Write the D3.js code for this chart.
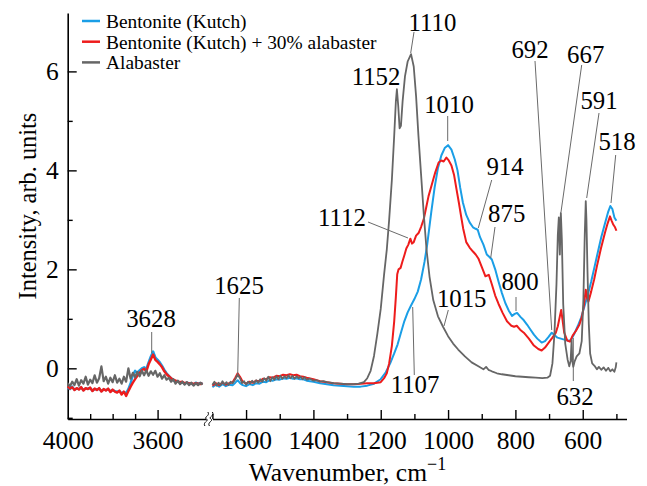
<!DOCTYPE html>
<html><head><meta charset="utf-8">
<script src="https://cdn.jsdelivr.net/npm/d3@7"></script>
<style>body{margin:0;background:#fff}svg{display:block}</style>
</head><body><svg id="c" width="647" height="486"></svg>
<script>
// ---------- DATA ----------
const seriesNames = ["Bentonite (Kutch)", "Bentonite (Kutch) + 30% alabaster", "Alabaster"];

// left segment (4000–3400 cm-1)
const wnLeft = [4000,3990,3980,3970,3960,3950,3940,3930,3920,3910,
                3900,3890,3880,3870,3860,3850,3840,3830,3820,3810,
                3800,3790,3780,3770,3760,3750,3740,3730,3720,3710,
                3700,3690,3680,3670,3660,3650,3640,3630,3620,3610,
                3600,3590,3580,3570,3560,3550,3540,3530,3520,3510,
                3500,3490,3480,3470,3460,3450,3440,3430,3420,3410,
                3400];
const bentoniteLeft = [-0.39,-0.42,-0.37,-0.43,-0.41,-0.42,-0.39,-0.44,-0.41,-0.41,
                       -0.4,-0.45,-0.42,-0.43,-0.41,-0.46,-0.43,-0.44,-0.42,-0.46,
                       -0.44,-0.46,-0.47,-0.46,-0.5,-0.48,-0.5,-0.42,-0.3,-0.14,
                       -0.05,-0.1,-0.04,0.0,0.02,-0.01,0.12,0.24,0.34,0.22,
                       0.17,0.12,0.05,-0.03,-0.1,-0.15,-0.2,-0.24,-0.27,-0.26,
                       -0.3,-0.28,-0.31,-0.29,-0.3,-0.31,-0.33,-0.29,-0.31,-0.3,
                       -0.31];
const mixLeft = [-0.37,-0.41,-0.38,-0.44,-0.4,-0.43,-0.38,-0.45,-0.4,-0.42,
                 -0.39,-0.46,-0.41,-0.44,-0.4,-0.47,-0.42,-0.45,-0.41,-0.48,
                 -0.43,-0.47,-0.49,-0.45,-0.53,-0.47,-0.56,-0.46,-0.37,-0.29,
                 -0.22,-0.15,-0.1,-0.04,-0.01,-0.06,0.08,0.18,0.28,0.17,
                 0.13,0.08,0.02,-0.06,-0.12,-0.16,-0.2,-0.23,-0.25,-0.27,
                 -0.28,-0.27,-0.3,-0.29,-0.31,-0.3,-0.32,-0.3,-0.31,-0.32,
                 -0.3];
const alabasterLeft = [-0.3,-0.36,-0.27,-0.34,-0.22,-0.35,-0.24,-0.31,-0.17,-0.33,
                       -0.23,-0.3,-0.14,-0.29,-0.2,0.04,-0.26,-0.17,-0.31,-0.19,
                       -0.28,-0.14,-0.29,-0.21,-0.31,-0.17,-0.27,0.0,-0.21,-0.09,
                       -0.18,-0.07,-0.16,-0.05,-0.14,-0.04,-0.15,-0.06,-0.13,-0.05,
                       -0.17,-0.1,-0.21,-0.14,-0.23,-0.19,-0.27,-0.22,-0.31,-0.25,
                       -0.32,-0.27,-0.33,-0.28,-0.34,-0.29,-0.35,-0.3,-0.34,-0.29,
                       -0.33];

// right segment (1700–500 cm-1): [wavenumber, intensity]
const bentoniteRight = [[1700,-0.38],[1690,-0.33],[1680,-0.37],[1670,-0.32],[1660,-0.36],[1650,-0.33],[1640,-0.34],[1632,-0.29],
  [1625,-0.24],[1618,-0.3],[1610,-0.34],[1600,-0.36],[1590,-0.32],[1580,-0.34],[1570,-0.3],[1560,-0.31],[1550,-0.27],[1540,-0.28],
  [1530,-0.24],[1520,-0.25],[1510,-0.22],[1500,-0.23],[1490,-0.2],[1480,-0.21],[1470,-0.19],[1460,-0.21],[1450,-0.2],[1440,-0.22],
  [1430,-0.22],[1420,-0.25],[1400,-0.27],[1380,-0.3],[1360,-0.32],[1340,-0.34],[1320,-0.35],[1300,-0.36],[1280,-0.37],[1260,-0.37],
  [1240,-0.35],[1220,-0.31],[1200,-0.22],[1185,-0.08],[1172,0.1],[1160,0.3],[1150,0.48],[1140,0.72],[1130,0.95],[1120,1.13],
  [1110,1.27],[1100,1.4],[1090,1.55],[1080,1.8],[1070,2.15],[1062,2.5],[1050,3.15],[1040,3.65],[1030,4.05],[1020,4.3],[1010,4.45],
  [1000,4.51],[990,4.42],[980,4.22],[972,4.0],[964,3.65],[956,3.35],[946,3.1],[936,2.95],[926,2.85],[918,2.82],[912,2.8],
  [905,2.65],[895,2.5],[885,2.3],[877,2.25],[870,2.2],[860,2.0],[850,1.75],[840,1.52],[830,1.32],[820,1.17],[810,1.06],
  [802,1.1],[795,1.12],[785,1.04],[775,0.97],[765,0.88],[755,0.78],[745,0.68],[735,0.6],[722,0.52],[712,0.55],[702,0.63],
  [692,0.72],[685,0.68],[675,0.62],[665,0.6],[655,0.58],[645,0.56],[635,0.57],[625,0.7],[615,0.85],[605,1.02],[595,1.25],
  [585,1.48],[575,1.75],[565,2.05],[555,2.35],[545,2.65],[535,2.9],[525,3.15],[518,3.28],[512,3.22],[506,3.05],[500,2.98]];

const mixRight = [[1700,-0.35],[1690,-0.3],[1680,-0.34],[1670,-0.29],[1660,-0.33],[1650,-0.3],[1640,-0.28],[1632,-0.19],
  [1625,-0.1],[1618,-0.17],[1610,-0.27],[1600,-0.31],[1590,-0.27],[1580,-0.29],[1570,-0.25],[1560,-0.26],[1550,-0.21],[1540,-0.22],
  [1530,-0.18],[1520,-0.19],[1510,-0.15],[1500,-0.16],[1490,-0.13],[1480,-0.14],[1470,-0.12],[1460,-0.14],[1450,-0.13],[1440,-0.16],
  [1430,-0.17],[1420,-0.19],[1400,-0.22],[1380,-0.26],[1360,-0.28],[1340,-0.3],[1320,-0.31],[1300,-0.32],[1280,-0.32],[1260,-0.31],
  [1240,-0.3],[1220,-0.3],[1200,-0.28],[1190,-0.2],[1182,-0.1],[1175,0.1],[1167,0.45],[1160,0.95],[1155,1.45],[1151,1.9],
  [1147,2.0],[1141,2.03],[1136,2.15],[1130,2.28],[1124,2.42],[1118,2.5],[1112,2.62],[1107,2.52],[1102,2.55],[1095,2.68],
  [1087,2.74],[1080,2.86],[1072,3.02],[1065,3.25],[1058,3.48],[1048,3.72],[1038,3.96],[1028,4.16],[1020,4.2],[1013,4.18],
  [1005,4.26],[998,4.2],[990,4.1],[982,3.9],[975,3.62],[968,3.35],[962,3.1],[955,2.82],[946,2.55],[936,2.44],[926,2.36],
  [918,2.3],[910,2.22],[900,2.05],[889,1.86],[879,1.89],[870,1.7],[860,1.47],[850,1.3],[838,1.12],[825,0.95],[812,0.86],
  [804,0.84],[796,0.86],[786,0.78],[775,0.72],[760,0.6],[745,0.46],[732,0.39],[722,0.36],[712,0.42],[700,0.53],[690,0.62],
  [680,0.72],[674,0.85],[668,1.05],[664,1.18],[660,0.98],[655,0.72],[646,0.56],[638,0.54],[630,0.66],[620,0.76],[610,0.88],
  [602,1.05],[596,1.3],[591,1.59],[587,1.42],[583,1.35],[575,1.55],[566,1.8],[558,2.06],[546,2.42],[534,2.74],[526,2.93],
  [519,3.07],[514,2.98],[509,2.9],[504,2.85],[500,2.78]];

const alabasterRight = [[1700,-0.33],[1694,-0.27],[1688,-0.35],[1682,-0.29],[1676,-0.34],[1670,-0.26],[1664,-0.33],[1658,-0.28],
  [1652,-0.34],[1646,-0.27],[1640,-0.3],[1632,-0.22],[1625,-0.13],[1618,-0.2],[1612,-0.3],[1606,-0.26],[1600,-0.33],[1594,-0.27],
  [1588,-0.31],[1582,-0.25],[1576,-0.3],[1570,-0.24],[1564,-0.29],[1558,-0.22],[1552,-0.27],[1546,-0.2],[1540,-0.25],[1534,-0.17],
  [1528,-0.26],[1522,-0.18],[1516,-0.23],[1510,-0.16],[1504,-0.22],[1498,-0.15],[1492,-0.21],[1486,-0.16],[1480,-0.2],[1474,-0.14],
  [1468,-0.2],[1462,-0.15],[1456,-0.21],[1450,-0.16],[1444,-0.2],[1438,-0.17],[1432,-0.22],[1426,-0.18],[1420,-0.23],[1410,-0.21],
  [1400,-0.25],[1390,-0.24],[1380,-0.27],[1370,-0.26],[1360,-0.28],[1340,-0.3],[1320,-0.31],[1300,-0.32],[1280,-0.32],[1265,-0.31],
  [1250,-0.28],[1240,-0.2],[1230,-0.05],[1220,0.25],[1210,0.7],[1200,1.2],[1190,1.9],[1182,2.4],[1175,3.0],[1167,3.8],
  [1160,4.7],[1155,5.4],[1152,5.64],[1148,5.3],[1144,4.85],[1140,4.9],[1135,5.4],[1128,5.9],[1120,6.2],[1110,6.35],
  [1102,6.1],[1095,5.5],[1088,4.7],[1080,3.9],[1072,3.1],[1064,2.4],[1055,1.85],[1044,1.38],[1030,1.05],[1015,0.84],
  [1000,0.65],[985,0.5],[970,0.38],[950,0.24],[930,0.12],[910,0.04],[895,-0.02],[887,0.03],[880,-0.03],[870,-0.06],
  [855,-0.1],[840,-0.12],[820,-0.14],[800,-0.16],[780,-0.17],[760,-0.18],[740,-0.19],[720,-0.2],[705,-0.19],[697,-0.15],
  [690,0.1],[684,0.7],[678,1.7],[674,2.7],[671,3.05],[668,2.3],[665,3.14],[662,2.6],[658,1.3],[652,0.5],[645,0.18],
  [640,0.04],[636,0.15],[633,0.57],[631,0.15],[628,0.03],[624,0.14],[618,0.24],[610,0.3],[603,0.55],[598,1.4],[594,2.7],
  [591,3.38],[589,3.0],[586,2.0],[582,0.9],[578,0.3],[572,0.1],[565,0.05],[558,-0.02],[552,0.03],[545,-0.03],[538,0.02],
  [531,-0.05],[524,0.01],[518,-0.06],[512,-0.02],[506,-0.07],[502,0.02],[500,0.12]];

const peakLabels = ["3628","1625","1152","1110","1112","1107","1010","1015","914","875","800","692","667","632","591","518"];
const yTicks = [0,2,4,6];
const yMinor = [-1,1,3,5];
const xTicksLeft = [4000,3600];
const xMinorLeft = [3900,3800,3700,3500];
const xTicksRight = [1600,1400,1200,1000,800,600];
const xMinorRight = [1700,1500,1300,1100,900,700,500];

// ---------- STYLE ----------
const font = `"Liberation Serif", "Times New Roman", serif`;
const fs = {tick:25.5, ann:24.8, ytitle:24.4, xtitle:25.5, sup:18, leg:19.4, pad:12};
const colors = ["#1a9ee6","#ee1c1c","#666666"];
const svg = d3.select("#c").style("font-family", font);

const xL = d3.scaleLinear().domain([4000,3385]).range([67.7,205.9]);
const xR = d3.scaleLinear().domain([1700,470]).range([212.4,626.5]);
const y = d3.scaleLinear().domain([-1.024,7.18]).range([419,13]);

function styleAxis(g){
  g.attr("font-family", null).attr("font-size", null);
  g.selectAll("path.domain").attr("stroke","#000").attr("stroke-width",1.6);
  g.selectAll(".tick line").attr("stroke","#000").attr("stroke-width",1.4);
  g.selectAll(".tick text").style("font-family", font).style("font-size", fs.tick+"px").attr("fill","#000");
}
// y axis
svg.append("g").attr("transform","translate(67.7,0)")
  .call(d3.axisLeft(y).tickValues(yMinor).tickSizeInner(-5).tickSizeOuter(0).tickFormat(""))
  .call(styleAxis);
svg.append("g").attr("transform","translate(67.7,0)")
  .call(d3.axisLeft(y).tickValues(yTicks).tickSizeInner(-9).tickSizeOuter(0).tickPadding(9).tickFormat(d3.format("d")))
  .call(styleAxis).call(g=>g.select("path.domain").remove());

// x axis left
const xAxL = svg.append("g").attr("transform","translate(0,419)");
xAxL.append("g").call(d3.axisBottom(xL).tickValues(xMinorLeft).tickSizeInner(-5).tickSizeOuter(0).tickFormat("")).call(styleAxis);
xAxL.append("g").call(d3.axisBottom(xL).tickValues(xTicksLeft).tickSizeInner(-9).tickSizeOuter(0).tickPadding(fs.pad).tickFormat(d3.format("d")))
  .call(styleAxis).call(g=>g.select("path.domain").remove());
// x axis right
const xAxR = svg.append("g").attr("transform","translate(0,419)");
xAxR.append("g").call(d3.axisBottom(xR).tickValues(xMinorRight).tickSizeInner(-5).tickSizeOuter(0).tickFormat("")).call(styleAxis);
xAxR.append("g").call(d3.axisBottom(xR).tickValues(xTicksRight).tickSizeInner(-9).tickSizeOuter(0).tickPadding(fs.pad).tickFormat(d3.format("d")))
  .call(styleAxis).call(g=>g.select("path.domain").remove());
xAxL.selectAll(".tick line").filter(d=>d===4000).remove();

// axis break mark
const bx = xL.range()[1];
[bx+0.5, bx+5].forEach(x0=>{
  svg.append("path")
    .attr("d",`M${x0-1.5},426 C${x0-4},422 ${x0+3},421 ${x0},419 C${x0-3},417 ${x0+4},416 ${x0+1.5},412`)
    .attr("fill","none").attr("stroke","#000").attr("stroke-width",1);
});

// axis titles
svg.append("text").attr("transform","translate(35.5,206) rotate(-90)")
  .attr("text-anchor","middle").style("font-size", fs.ytitle+"px")
  .text("Intensity, arb. units");
const xt = svg.append("text").attr("x",347.5).attr("y",481).attr("text-anchor","middle")
  .style("font-size", fs.xtitle+"px");
xt.append("tspan").text("Wavenumber, cm");
xt.append("tspan").attr("dy",-11).style("font-size", fs.sup+"px").text("\u22121");

// ---------- LINES ----------
const lineL = d3.line().x(d=>xL(d[0])).y(d=>y(d[1]));
const lineR = d3.line().x(d=>xR(d[0])).y(d=>y(d[1]));
const leftSets = [bentoniteLeft, mixLeft, alabasterLeft];
const rightSets = [bentoniteRight, mixRight, alabasterRight];
const widths = [2,2,1.8];
[0,1,2].forEach(i=>{
  svg.append("path").datum(wnLeft.map((w,j)=>[w,leftSets[i][j]]))
    .attr("d",lineL).attr("fill","none").attr("stroke",colors[i]).attr("stroke-width",widths[i]+0.4)
    .attr("stroke-linejoin","round");
  svg.append("path").datum(rightSets[i])
    .attr("d",lineR).attr("fill","none").attr("stroke",colors[i]).attr("stroke-width",widths[i])
    .attr("stroke-linejoin","round");
});

// ---------- ANNOTATIONS ----------
const annLayout = {
  "3628":{t:[151,327],l:[151.7,332,151.7,353]},
  "1625":{t:[239,294],l:[239.3,298,237.7,375]},
  "1152":{t:[376,85]},
  "1110":{t:[432.5,30.7],l:[414,32,410.7,53]},
  "1112":{t:[342,226],l:[368,222,408,238]},
  "1107":{t:[415,393],l:[414.3,375,412.7,307]},
  "1010":{t:[449,113],l:[447.7,116,447.7,141]},
  "1015":{t:[461.7,306.7],l:[448.3,310,444,326]},
  "914":{t:[505,175],l:[491.7,180,478.3,228]},
  "875":{t:[506.7,221.7],l:[495,227,490.7,258]},
  "800":{t:[520,290],l:[516,297,516,311]},
  "692":{t:[530,58.3],l:[535,61,551.7,330]},
  "667":{t:[585.7,63.3],l:[581.7,65,561,212]},
  "632":{t:[575,405],l:[573.3,381,573.3,338]},
  "591":{t:[599,109.3],l:[599,113,586.7,198]},
  "518":{t:[617,150],l:[615.7,155,611,203]}
};
const ann = svg.append("g");
peakLabels.forEach(lbl=>{
  const a = annLayout[lbl];
  if(a.l) ann.append("line").attr("x1",a.l[0]).attr("y1",a.l[1]).attr("x2",a.l[2]).attr("y2",a.l[3])
      .attr("stroke","#6a6a6a").attr("stroke-width",1);
  ann.append("text").attr("x",a.t[0]).attr("y",a.t[1]).attr("text-anchor","middle")
     .style("font-size", fs.ann+"px").attr("fill","#000").text(lbl);
});

// ---------- LEGEND ----------
const leg = svg.append("g");
seriesNames.forEach((n,i)=>{
  const yy = 21 + i*20.7;
  leg.append("line").attr("x1",82).attr("x2",100).attr("y1",yy).attr("y2",yy)
     .attr("stroke",colors[i]).attr("stroke-width",2.5);
  leg.append("text").attr("x",106).attr("y",yy+6.8).style("font-size", fs.leg+"px")
     .attr("fill","#000").text(n);
});
</script></body></html>
